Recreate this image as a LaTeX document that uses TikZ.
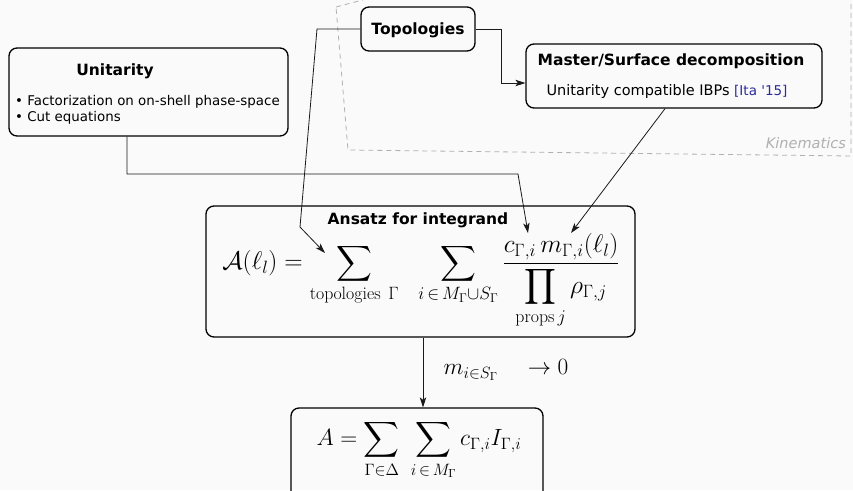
\RequirePackage{fix-cm}
\documentclass[tikz,border=0pt]{standalone}
\usepackage{amsmath}
\usepackage{fontspec}
\usetikzlibrary{arrows.meta}
\newfontfamily\dejavu{DejaVu Sans}
\definecolor{bg}{HTML}{FAFAFA}
\definecolor{citec}{HTML}{2B2B9B}
\definecolor{kin}{HTML}{B0B0B0}
\definecolor{conn}{HTML}{1A1A1A}
\tikzset{
  box/.style={draw=black, line width=1.3pt, rounded corners=8pt, inner sep=0pt},
  ttl/.style={font=\dejavu\bfseries\fontsize{15.5}{18}\selectfont, inner sep=0pt},
  body/.style={font=\dejavu\fontsize{13.4}{16}\selectfont, inner sep=0pt},
  mathlbl/.style={font=\fontsize{23.3}{27}\selectfont, inner sep=0pt},
  link/.style={draw=conn, line width=0.8pt},
  arr/.style={link, -{Stealth[length=10pt,width=6.5pt,inset=2.5pt]}},
}
\begin{document}
\begin{tikzpicture}[x=1pt,y=-1pt]
\useasboundingbox (0,0) rectangle (853,490);
\fill[bg] (0,0) rectangle (853,490);
\clip (0,0) rectangle (853,490);
% Kinematics frame
\draw[kin, line width=0.8pt, dash pattern=on 5pt off 4pt] (336,7) -- (400,-10) -- (851,-10) -- (851,156) -- (348,150) -- cycle;
\node[font=\dejavu\itshape\fontsize{14.5}{17}\selectfont, text=kin, anchor=east, inner sep=0pt] (kinlbl) at (846,143) {Kinematics};
% boxes
\node[box, minimum width=279pt, minimum height=88pt] (unit) at (148.5,92) {};
\node[box, minimum width=114pt, minimum height=44pt] (topo) at (418,29) {};
\node[box, minimum width=296pt, minimum height=64pt] (master) at (674,76) {};
\node[box, minimum width=429pt, minimum height=131pt] (ansatz) at (420.5,271.5) {};
\node[box, minimum width=252pt, minimum height=110pt] (final) at (417,463) {};
% texts
\node[ttl] (unitT) at (115,71) {Unitarity};
\node[body, anchor=west, align=left] (unitB) at (15,109.5) {• Factorization on on-shell phase-space\\• Cut equations};
\node[ttl] (topoT) at (418,30) {Topologies};
\node[ttl] (masterT) at (671,61) {Master/Surface decomposition};
\node[body, font=\dejavu\fontsize{14.5}{17}\selectfont] (masterB) at (667,91) {Unitarity compatible IBPs {\fontsize{13.5}{16}\selectfont\color{citec}[Ita \textquotesingle15]}};
\node[ttl] (ansatzT) at (418,220) {Ansatz for integrand};
\node[font=\fontsize{25.5}{30}\selectfont, inner sep=0pt] (ansatzF) at (421,281) {$\displaystyle \mathcal{A}(\ell_l) = \sum_{\mathrm{topologies}\ \Gamma}\ \ \sum_{i\,\in\, M_\Gamma\cup S_\Gamma} \frac{c_{\Gamma,i}\, m_{\Gamma,i}(\ell_l)}{\displaystyle\prod_{\mathrm{props}\, j}\rho_{\Gamma,j}}$};
\node[font=\fontsize{23.5}{28}\selectfont, inner sep=0pt] (finalF) at (419,450) {$\displaystyle A = \sum_{\Gamma\in\Delta}\ \sum_{i\,\in\, M_\Gamma} c_{\Gamma,i} I_{\Gamma,i}$};
\node[mathlbl] (lim) at (506,370) {$m_{i\in S_\Gamma}\quad\to 0$};
% anchor points
\coordinate (sumtip) at (325,253);
\coordinate (numtip) at (528,233);
\coordinate (mtip) at (571,233);
% connectors
\draw[arr] (topo.west) -- (317,29) -- (300,227) -- (sumtip);
\draw[arr] (topo.east) -- (501,29) |- ([yshift=-7pt]master.west);
\draw[arr] ([xshift=-21.5pt]unit.south) -- (127,174) -- (518,174) -- (numtip);
\draw[arr] ([xshift=-9pt]master.south) -- (mtip);
\draw[arr] ([xshift=2.5pt]ansatz.south) -- ([xshift=6pt]final.north);
\end{tikzpicture}
\end{document}
